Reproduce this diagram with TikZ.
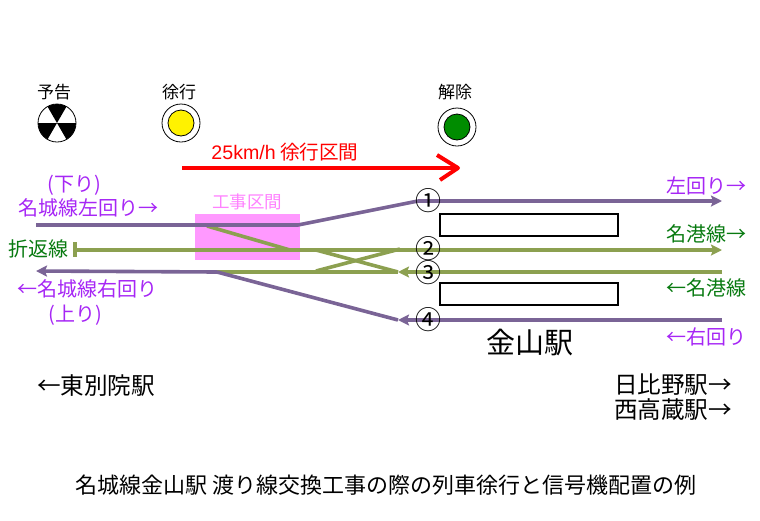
\documentclass[tikz,border=0pt]{standalone}
\usepackage{fontspec}
\setmainfont{Noto Sans CJK JP}
\newfontfamily\latinfont{Liberation Sans}
\usetikzlibrary{arrows.meta}
\definecolor{trackpurple}{HTML}{7A6496}
\definecolor{trackolive}{HTML}{8CA050}
\definecolor{labelpurple}{HTML}{A626F5}
\definecolor{labelgreen}{HTML}{087A10}
\definecolor{worksite}{HTML}{FF99FF}
\tikzset{
    purpletrack/.style={draw=trackpurple,line width=3.6pt},
    olivetrack/.style={draw=trackolive,line width=3.6pt},
    trackhead/.style={-{Stealth[length=11pt,width=11pt,inset=2pt]}},
    lbl/.style={font=\fontsize{20pt}{20pt}\selectfont,inner sep=0pt},
    biglbl/.style={font=\fontsize{23.6pt}{23.6pt}\selectfont,inner sep=0pt},
    sigtext/.style={font=\fontsize{17pt}{17pt}\selectfont,inner sep=0pt},
    platno/.style={font=\fontsize{26pt}{26pt}\selectfont,inner sep=0pt},
    platform/.style={draw,line width=1.2pt,fill=white},
    sigring/.style={draw,fill=white,line width=0.8pt},
    siglamp/.style={draw,line width=0.8pt},
}
\begin{document}
\begin{tikzpicture}[x=1pt,y=-1pt]
    \useasboundingbox (0,0) rectangle (760,520);
    % signals
    \coordinate (sigA) at (57,123);
    \coordinate (sigB) at (181,123);
    \coordinate (sigC) at (457,127);
    \draw[sigring] (sigA) circle[radius=19];
    \foreach \a in {60,180,300}
        \fill (sigA) -- ++(-\a:19) arc[start angle=-\a,end angle=-\a-60,radius=19] -- cycle;
    \draw[sigring] (sigB) circle[radius=19];
    \draw[siglamp,fill=yellow] (sigB) circle[radius=13];
    \draw[sigring] (sigC) circle[radius=19];
    \draw[siglamp,fill=green!55!black] (sigC) circle[radius=13];
    \node[sigtext] (yokoku) at (54,92) {予告};
    \node[sigtext] (jokou) at (179,92) {徐行};
    \node[sigtext] (kaijo) at (455,92) {解除};
    % speed limit
    \coordinate (redL) at (182,168);
    \coordinate (redR) at (458,168);
    \draw[red,line width=4pt] (redL) -- (redR);
    \draw[red,line width=4pt,line join=round] (437,155) -- (redR) -- (440,180);
    \node[red,inner sep=0pt,font=\fontsize{19.6pt}{19.6pt}\selectfont] (limit) at (285,152) {{\latinfont 25km/h} 徐行区間};
    % work section
    \fill[worksite] (195,214) rectangle (300,260);
    \node[inner sep=0pt,text=worksite!85!magenta,font=\fontsize{17.5pt}{17.5pt}\selectfont] (koji) at (247,202) {工事区間};
    % tracks
    \coordinate (t1L) at (36,225);
    \coordinate (t1M) at (298,225);
    \coordinate (t1S) at (418,201);
    \coordinate (t1R) at (722,201);
    \coordinate (t2L) at (75,250);
    \coordinate (t2R) at (722,250);
    \coordinate (t3L) at (36,271);
    \coordinate (t3M) at (217,272);
    \coordinate (t3S) at (398,272);
    \coordinate (t3R) at (722,272);
    \coordinate (t4S) at (398,320);
    \coordinate (t4R) at (722,320);
    \draw[olivetrack] (207,226) -- (290,250);
    \draw[olivetrack,trackhead] (t2L) -- (t2R);
    \draw[olivetrack] (75,242) -- (75,257);
    \draw[olivetrack] (316,271) -- (400,249);
    \draw[olivetrack] (316,250) -- (t3S);
    \draw[olivetrack] (t3S) -- (t3M);
    \draw[olivetrack,trackhead] (t3R) -- (t3S);
    \draw[purpletrack,line join=round] (t1L) -- (t1M) -- (t1S);
    \draw[purpletrack,trackhead] (t1S) -- (t1R);
    \draw[purpletrack,trackhead] (t3M) -- (t3L);
    \draw[purpletrack] (t3M) -- (t4S);
    \draw[purpletrack,trackhead] (t4R) -- (t4S);
    % platforms
    \draw[platform] (440,214) rectangle (618,236);
    \draw[platform] (440,283) rectangle (618,305);
    \node[platno] (no1) at (428,201) {①};
    \node[platno] (no2) at (428,249) {②};
    \node[platno] (no3) at (428,273) {③};
    \node[platno] (no4) at (428,320) {④};
    % labels
    \node[lbl,labelpurple] (kudari) at (74,185) {(下り)};
    \node[lbl,labelpurple] (meijoL) at (88,208) {名城線左回り→};
    \node[lbl,labelpurple] (meijoR) at (87,289) {←名城線右回り};
    \node[lbl,labelpurple] (nobori) at (75,315) {(上り)};
    \node[lbl,labelgreen] (orikaeshi) at (39,249) {折返線};
    \node[lbl,labelpurple] (hidari) at (706,186) {左回り→};
    \node[lbl,labelgreen] (meikoA) at (706,234) {名港線→};
    \node[lbl,labelgreen] (meikoB) at (706,288) {←名港線};
    \node[lbl,labelpurple] (migi) at (706,337) {←右回り};
    \node[inner sep=0pt,font=\fontsize{29pt}{29pt}\selectfont] (kanayama) at (530,343) {金山駅};
    \node[biglbl] (higashi) at (96,386) {←東別院駅};
    \node[biglbl] (hibino) at (673,385) {日比野駅→};
    \node[biglbl] (nishi) at (673,410) {西高蔵駅→};
    \node[lbl,font=\fontsize{22pt}{22pt}\selectfont] (caption) at (386,485) {名城線金山駅 渡り線交換工事の際の列車徐行と信号機配置の例};
\end{tikzpicture}
\end{document}
